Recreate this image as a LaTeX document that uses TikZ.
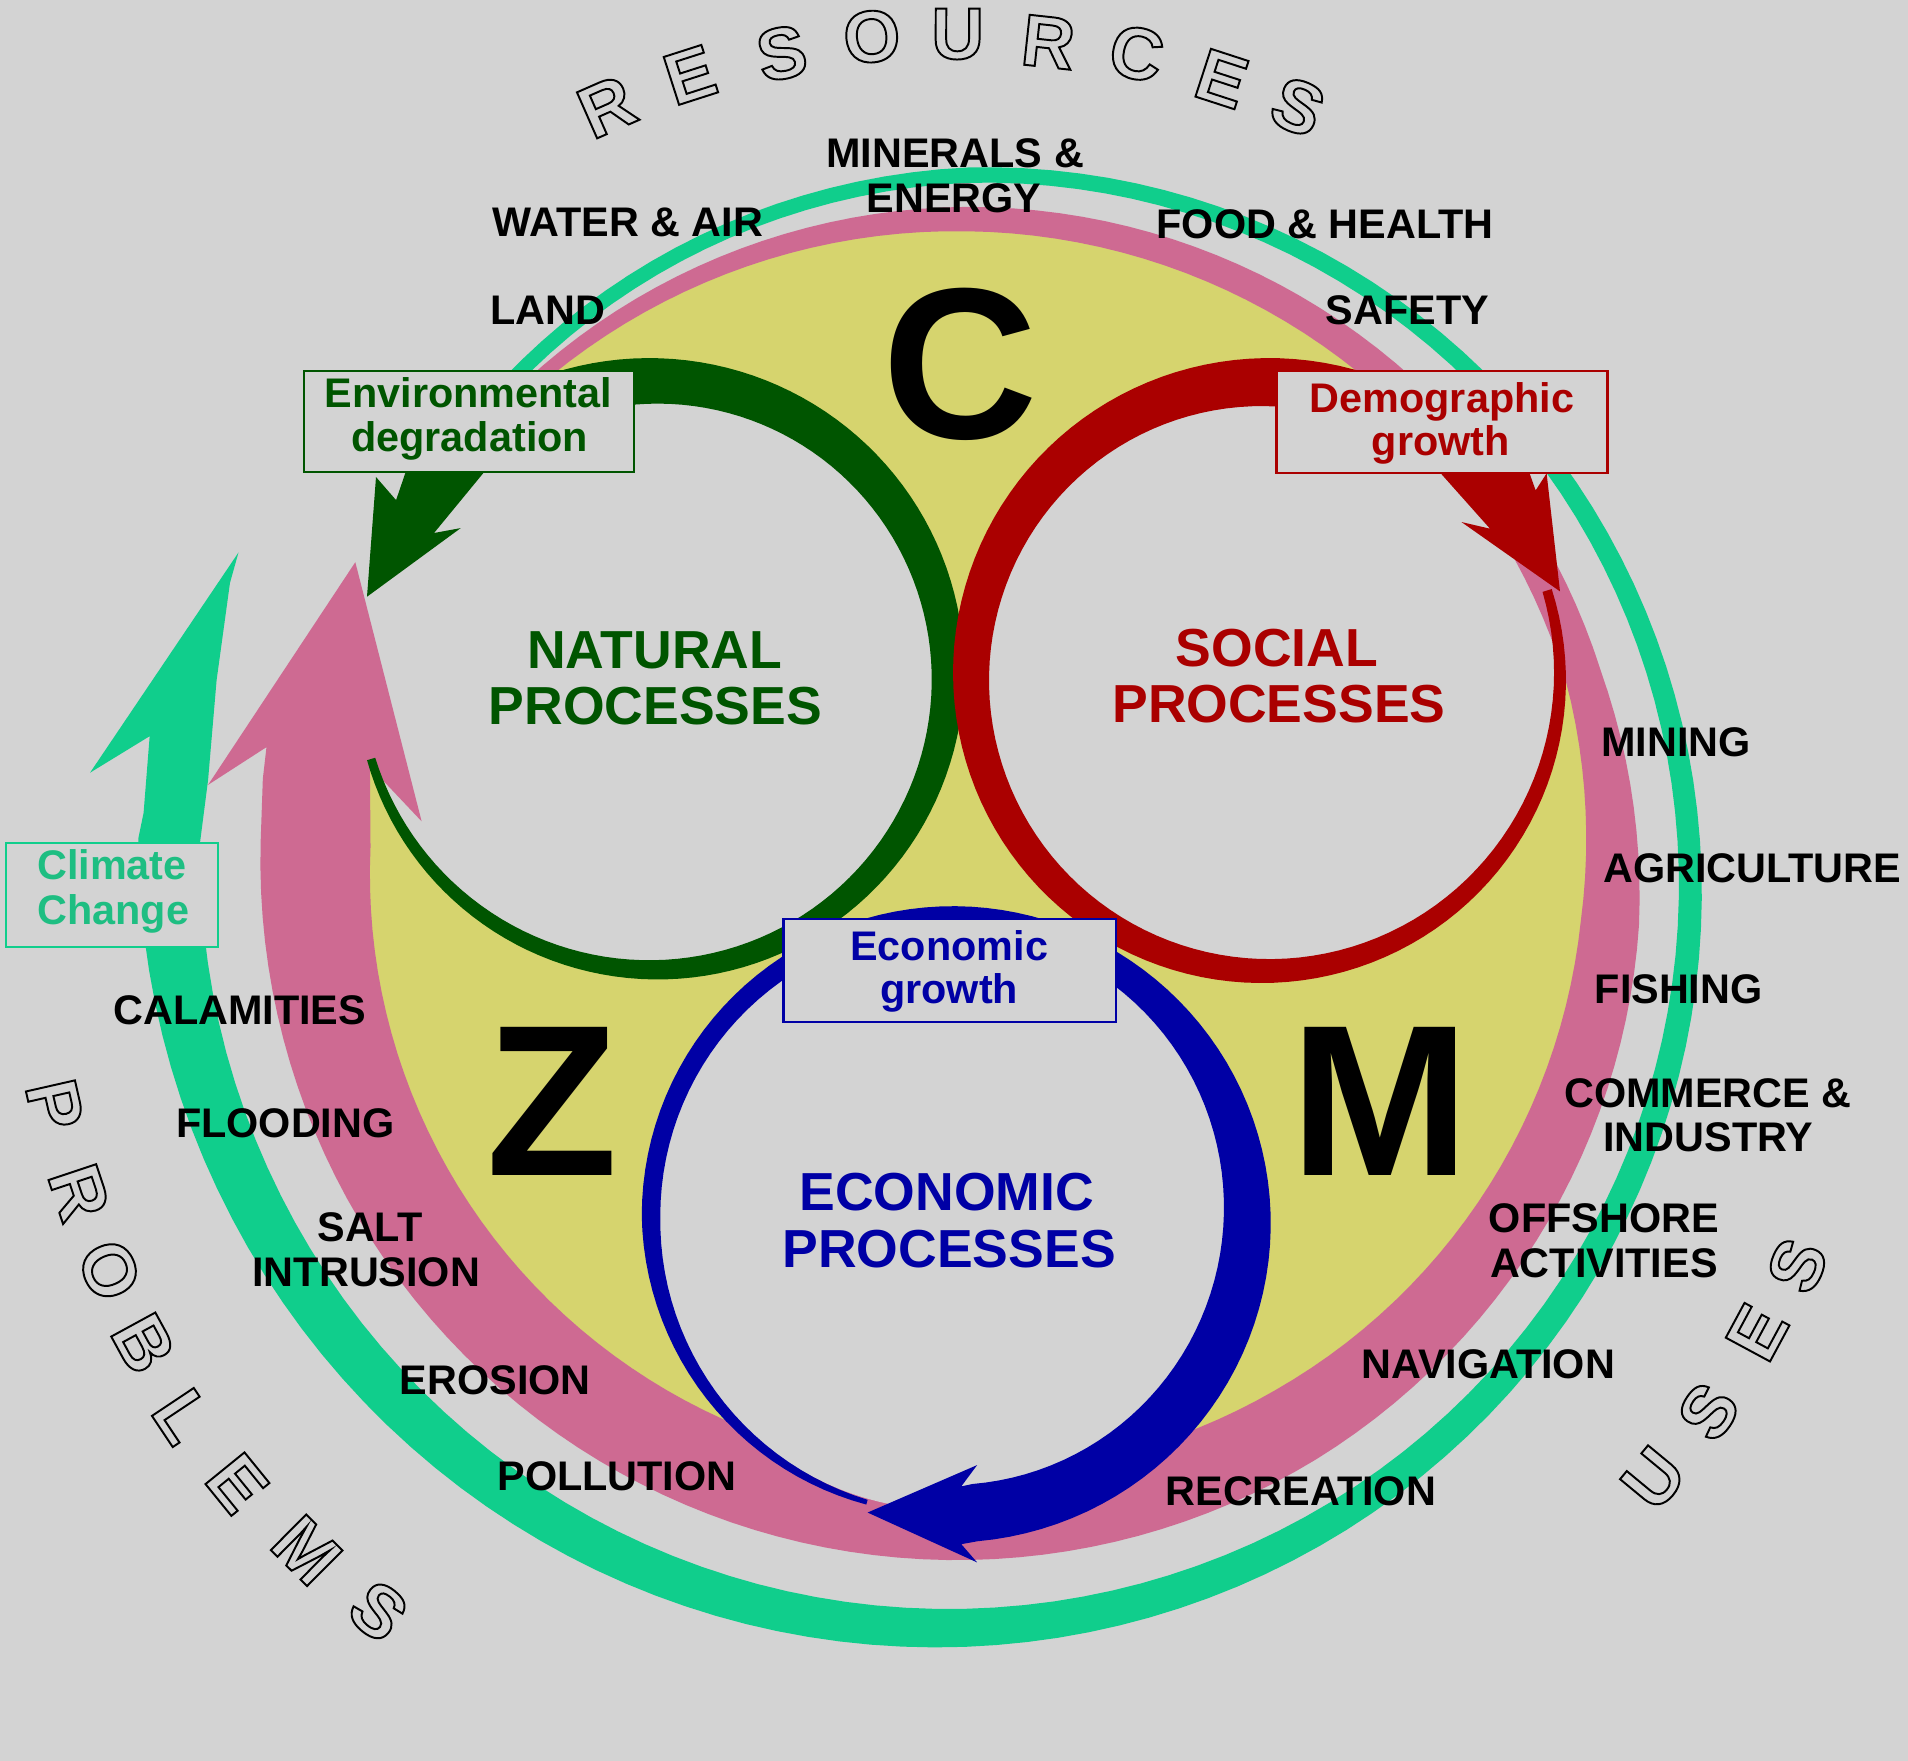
\documentclass[tikz,border=0pt]{standalone}
\usepackage{fontspec}
\setmainfont{Liberation Sans}
\definecolor{bgc}{RGB}{211,211,211}
\definecolor{yel}{RGB}{214,212,110}
\definecolor{pinkc}{RGB}{206,106,146}
\definecolor{tealc}{RGB}{16,206,140}
\definecolor{tealtx}{RGB}{30,190,130}
\definecolor{ngreen}{RGB}{0,85,0}
\definecolor{sred}{RGB}{170,0,0}
\definecolor{eblue}{RGB}{0,0,165}
\newcommand\olet[1]{\special{pdf:literal direct 1 Tr 1.6 w}#1\special{pdf:literal direct 0 Tr}}
\pgfmathdeclarefunction{wpink}{1}{\pgfmathparse{ifthenelse(#1<270,9+(#1-222)*11/48,ifthenelse(#1<343,20+(#1-270)*10/73,ifthenelse(#1<365,30+(#1-343)*18/22,ifthenelse(#1<419,48+(#1-365)*18/54,66+(#1-419)*24/121))))}}
\pgfmathdeclarefunction{rteal}{1}{\pgfmathparse{569+0.31*(#1-270)+0.22*min(#1-270,0)}}
\pgfmathdeclarefunction{wteal}{1}{\pgfmathparse{12+37*((#1-232)/302)*((#1-232)/302)}}
\pgfmathdeclarefunction{wecon}{1}{\pgfmathparse{min(4+0.15*(#1-106),15)+33/(1+exp(-(#1-333)/30))}}
\begin{document}
\begin{tikzpicture}[x=1pt,y=-1pt,
 lab/.style={font=\fontsize{34}{34}\selectfont\bfseries,inner sep=0pt,anchor=base},
 proc/.style={font=\fontsize{44}{44}\selectfont\bfseries,inner sep=0pt,anchor=base},
 big/.style={font=\fontsize{177}{177}\selectfont\bfseries,inner sep=0pt,anchor=base},
 olett/.style={font=\fontsize{60}{60}\selectfont\bfseries,inner sep=0pt,anchor=center},
 lbox/.style={fill=bgc,line width=1.8pt,inner sep=0pt}]
\useasboundingbox (0,0) rectangle (1568,1447);
\fill[bgc] (0,0) rectangle (1568,1447);
\fill[yel] (792,713) circle[radius=528];
% teal ring arrow
\fill[tealc] plot[domain=222:542,samples=140,variable=\t] ({792+(rteal(\t)+0.5*wteal(\t))*cos(\t)},{713+(rteal(\t)+0.5*wteal(\t))*sin(\t)})
 -- (118,668) -- (123,605) -- (74,635) -- (196,454) -- (189,479) -- (178,559) -- (171,641)
 -- plot[domain=222:542,samples=140,variable=\s] ({792+(rteal(764-\s)-0.5*wteal(764-\s))*cos(764-\s)},{713+(rteal(764-\s)-0.5*wteal(764-\s))*sin(764-\s)}) -- cycle;
% inner discs
\fill[bgc] (537,555) circle[radius=238];
\fill[bgc] (1040,556) circle[radius=238];
% pink ring arrow
\fill[pinkc] plot[domain=222:542,samples=160,variable=\t] ({792+(533+0.5*wpink(\t))*cos(\t)},{713+(533+0.5*wpink(\t))*sin(\t)})
 -- (216,640) -- (219,614) -- (171,645) -- (292,462) -- (346.5,675) -- (304,630)
 -- plot[domain=222:542,samples=160,variable=\s] ({792+(533-0.5*wpink(764-\s))*cos(764-\s)},{713+(533-0.5*wpink(764-\s))*sin(764-\s)}) -- cycle;
\fill[bgc] (780,999) circle[radius=242];
% natural processes ring
\fill[ngreen] plot[domain=0:291.5,samples=120,variable=\p] ({537+(242+0.5*(7+0.12*\p))*cos(163.5-\p)},{555+(242+0.5*(7+0.12*\p))*sin(163.5-\p)})
 -- (333,389) -- (325.5,411) -- (309,392) -- (301.6,490.4) -- (378.6,434) -- (356.7,438) -- (397,389)
 -- plot[domain=0:291.5,samples=120,variable=\q] ({537+(242-0.5*(7+0.12*(291.5-\q)))*cos(\q-128)},{555+(242-0.5*(7+0.12*(291.5-\q)))*sin(\q-128)}) -- cycle;
% social processes ring
\fill[sred] plot[domain=-17:305,samples=120,variable=\t] ({1040+(242+0.5*(8+0.11*(\t+16)))*cos(\t)},{556+(242+0.5*(8+0.11*(\t+16)))*sin(\t)})
 -- (1257,389) -- (1262,403) -- (1271,389) -- (1282,486) -- (1201,429) -- (1224.5,434.5) -- (1184,389)
 -- plot[domain=-17:305,samples=120,variable=\s] ({1040+(242-0.5*(8+0.11*(304-\s)))*cos(288-\s)},{556+(242-0.5*(8+0.11*(304-\s)))*sin(288-\s)}) -- cycle;
% economic processes ring
\fill[eblue] plot[domain=106:445,samples=120,variable=\t] ({780+(245+0.5*wecon(\t))*cos(\t)},{999+(245+0.5*wecon(\t))*sin(\t)})
 -- (790,1269) -- (803,1284) -- (713,1243) -- (803,1204) -- (790,1221.5)
 -- plot[domain=106:445,samples=120,variable=\s] ({780+(245-0.5*wecon(551-\s))*cos(551-\s)},{999+(245-0.5*wecon(551-\s))*sin(551-\s)}) -- cycle;
% boxes
\node[lbox,draw=ngreen,minimum width=271pt,minimum height=83pt] (envbox) at (385.5,346.5) {};
\node[lbox,draw=sred,minimum width=272pt,minimum height=84pt] (demobox) at (1185,347) {};
\node[lbox,draw=eblue,minimum width=273pt,minimum height=85pt] (econbox) at (780.3,797.5) {};
\node[lbox,draw=tealc,minimum width=174pt,minimum height=85pt] (climbox) at (92.25,735.5) {};
\node[lab,text=ngreen] (env1) at (385,334.5) {Environmental};
\node[lab,text=ngreen] (env2) at (386,371) {degradation};
\node[lab,text=sred] (dem1) at (1185,339) {Demographic};
\node[lab,text=sred] (dem2) at (1184,374) {growth};
\node[lab,text=eblue] (eco1) at (780,789) {Economic};
\node[lab,text=eblue] (eco2) at (780,824.5) {growth};
\node[lab,text=tealtx] (cli1) at (92,723) {Climate};
\node[lab,text=tealtx] (cli2) at (93,760) {Change};
% process labels
\node[proc,text=ngreen] (nat1) at (538,549.5) {NATURAL};
\node[proc,text=ngreen] (nat2) at (538.7,595) {PROCESSES};
\node[proc,text=sred] (soc1) at (1049.5,548) {SOCIAL};
\node[proc,text=sred] (soc2) at (1051,594) {PROCESSES};
\node[proc,text=eblue] (ecp1) at (778,995) {ECONOMIC};
\node[proc,text=eblue] (ecp2) at (780,1042) {PROCESSES};
% big letters
\node[big] (bigc) at (789,360) {C};
\node[big] (bigz) at (454,966) {Z};
\node[big] (bigm) at (1134,966) {M};
% resources
\node[lab] (min1) at (785,138) {MINERALS \&};
\node[lab] (min2) at (784,175) {ENERGY};
\node[lab] (water) at (516,194) {WATER \& AIR};
\node[lab] (land) at (450,267) {LAND};
\node[lab] (food) at (1089,196) {FOOD \& HEALTH};
\node[lab] (safety) at (1156.5,267) {SAFETY};
% uses
\node[lab] (mining) at (1377.5,622) {MINING};
\node[lab] (agri) at (1440,725) {AGRICULTURE};
\node[lab] (fish) at (1379.5,825) {FISHING};
\node[lab] (comm1) at (1403.5,910) {COMMERCE \&};
\node[lab] (comm2) at (1404,946) {INDUSTRY};
\node[lab] (off1) at (1318,1013) {OFFSHORE};
\node[lab] (off2) at (1318,1050) {ACTIVITIES};
\node[lab] (navi) at (1223,1133) {NAVIGATION};
\node[lab] (recr) at (1069,1237) {RECREATION};
% problems
\node[lab] (cala) at (197,842) {CALAMITIES};
\node[lab] (flood) at (234.5,935) {FLOODING};
\node[lab] (salt1) at (304,1020) {SALT};
\node[lab] (salt2) at (301,1057) {INTRUSION};
\node[lab] (eros) at (407,1146) {EROSION};
\node[lab] (poll) at (507,1225) {POLLUTION};
% outlined arc words
\node[olett,rotate=23.7] (r1) at (498.6,87.7) {\olet{R}};
\node[olett,rotate=17.8] (r2) at (567,61.6) {\olet{E}};
\node[olett,rotate=11.6] (r3) at (642.4,43.8) {\olet{S}};
\node[olett,rotate=5.5] (r4) at (716.4,30.1) {\olet{O}};
\node[olett,rotate=-0.2] (r5) at (787,28) {\olet{U}};
\node[olett,rotate=-6.2] (r6) at (861.5,34.6) {\olet{R}};
\node[olett,rotate=-12.1] (r7) at (934,43.9) {\olet{C}};
\node[olett,rotate=-18] (r8) at (1004,64.7) {\olet{E}};
\node[olett,rotate=-23.4] (r9) at (1066.6,87.7) {\olet{S}};
\node[olett,rotate=-77.2] (p1) at (45,908) {\olet{P}};
\node[olett,rotate=-71.6] (p2) at (65,980) {\olet{R}};
\node[olett,rotate=-66.4] (p3) at (90,1044) {\olet{O}};
\node[olett,rotate=-61.4] (p4) at (118,1104) {\olet{B}};
\node[olett,rotate=-56.3] (p5) at (150,1164) {\olet{L}};
\node[olett,rotate=-50.9] (p6) at (195,1219) {\olet{E}};
\node[olett,rotate=-44.8] (p7) at (252,1274) {\olet{M}};
\node[olett,rotate=-39.4] (p8) at (311,1324) {\olet{S}};
\node[olett,rotate=50.4] (u1) at (1359,1215) {\olet{U}};
\node[olett,rotate=55.8] (u2) at (1404,1160) {\olet{S}};
\node[olett,rotate=61.7] (u3) at (1444,1095) {\olet{E}};
\node[olett,rotate=66.6] (u4) at (1477,1040) {\olet{S}};
\end{tikzpicture}
\end{document}
